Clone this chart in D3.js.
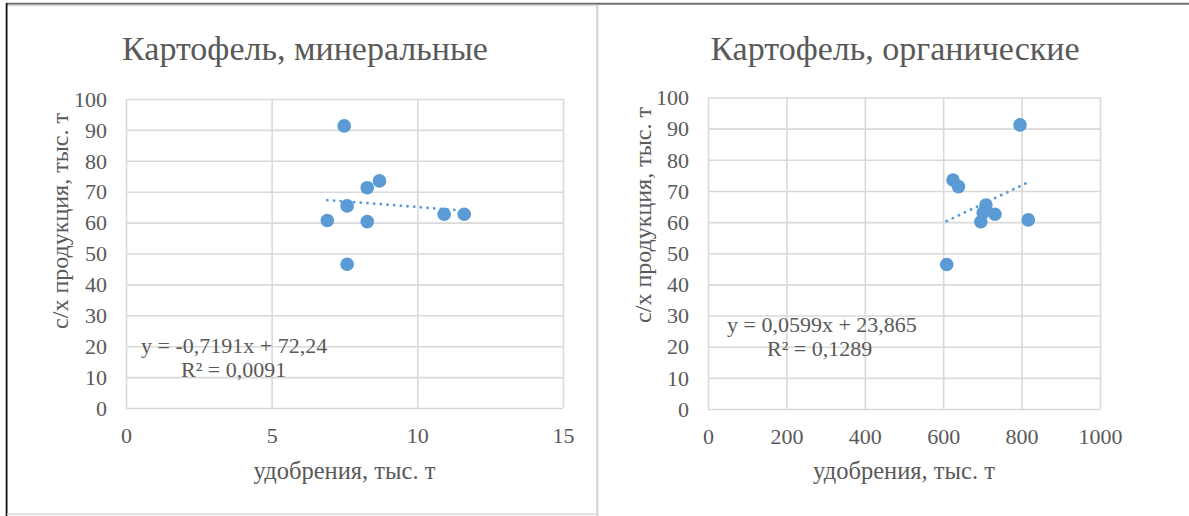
<!DOCTYPE html>
<html><head><meta charset="utf-8">
<script src="https://cdn.jsdelivr.net/npm/d3@7"></script>
<style>
body{margin:0;background:#fff}
svg{display:block}
text{font-family:"Liberation Serif","Times New Roman",serif;fill:#595959}
</style>
</head><body>
<svg id="c" width="1189" height="516"></svg>
<script>
// ---- data ----
const chartTitles = ["Картофель, минеральные", "Картофель, органические"];
const yAxisTitle = "с/х продукция, тыс. т";
const xAxisTitle = "удобрения, тыс. т";
const yTickValues = [0, 10, 20, 30, 40, 50, 60, 70, 80, 90, 100];
const xTicksMineral = [0, 5, 10, 15];
const xTicksOrganic = [0, 200, 400, 600, 800, 1000];
const mineralX = [7.49, 8.70, 8.28, 7.59, 6.91, 8.28, 7.59, 10.92, 11.61];
const mineralY = [91.3, 73.5, 71.3, 65.4, 60.7, 60.3, 46.5, 62.7, 62.7];
const organicX = [796, 625, 639, 709, 702, 732, 696, 817, 609];
const organicY = [91.2, 73.5, 71.4, 65.5, 63.0, 62.5, 60.1, 60.7, 46.4];
const trendMineral = [-0.7191, 72.24];   // slope, intercept
const trendOrganic = [0.0599, 23.865];
const eqMineral = ["y = -0,7191x + 72,24", "R² = 0,0091"];
const eqOrganic = ["y = 0,0599x + 23,865", "R² = 0,1289"];

// ---- layout ----
const svg = d3.select("#c");
svg.append("rect").attr("width",1189).attr("height",516).attr("fill","#fff");

// frame lines
svg.append("line").attr("x1",6).attr("x2",1189).attr("y1",3.8).attr("y2",3.8).attr("stroke","#6f6f6f").attr("stroke-width",2);
svg.append("line").attr("x1",7).attr("x2",597).attr("y1",5.6).attr("y2",5.6).attr("stroke","#dcdcdc").attr("stroke-width",1.5);
svg.append("line").attr("x1",6.6).attr("x2",6.6).attr("y1",3).attr("y2",516).attr("stroke","#111").attr("stroke-width",1.8);
svg.append("line").attr("x1",597.3).attr("x2",597.3).attr("y1",5).attr("y2",516).attr("stroke","#d9d9d9").attr("stroke-width",2.4);
svg.append("line").attr("x1",7).attr("x2",597).attr("y1",514.3).attr("y2",514.3).attr("stroke","#d9d9d9").attr("stroke-width",1.5);

const panels = [
  {title: chartTitles[0], xs: mineralX, ys: mineralY, xTicks: xTicksMineral, xDom:[0,15],
   px:[126,563], py:[408,99], trend: trendMineral, eq: eqMineral,
   titleX: 305, titleY: 60, yTitleX: 68, yTitleY: 221,
   eqPos: [[141,353],[181,377]]},
  {title: chartTitles[1], xs: organicX, ys: organicY, xTicks: xTicksOrganic, xDom:[0,1000],
   px:[708,1100], py:[409,97.5], trend: trendOrganic, eq: eqOrganic,
   titleX: 895, titleY: 60, yTitleX: 651, yTitleY: 215,
   eqPos: [[727,332],[767,356]]}
];

panels.forEach(p => {
  const x = d3.scaleLinear().domain(p.xDom).range(p.px);
  const y = d3.scaleLinear().domain([0,100]).range(p.py);
  const g = svg.append("g");

  // gridlines
  g.append("g").attr("transform",`translate(${p.px[0]},0)`)
    .call(d3.axisLeft(y).tickValues(yTickValues).tickSize(-(p.px[1]-p.px[0])).tickFormat(""))
    .call(a => a.select(".domain").remove())
    .call(a => a.selectAll("line").attr("stroke","#d9d9d9").attr("stroke-width",1.6));
  g.append("g").attr("transform",`translate(0,${p.py[0]})`)
    .call(d3.axisBottom(x).tickValues(p.xTicks).tickSize(-(p.py[0]-p.py[1])).tickFormat(""))
    .call(a => a.select(".domain").remove())
    .call(a => a.selectAll("line").attr("stroke","#d9d9d9").attr("stroke-width",1.6));

  // tick labels
  g.append("g").attr("transform",`translate(${p.px[0]-19},0)`)
    .call(d3.axisLeft(y).tickValues(yTickValues).tickSize(0).tickPadding(0).tickFormat(d3.format("d")))
    .call(a => a.select(".domain").remove())
    .call(a => a.selectAll("text").attr("font-size",22).attr("font-family",'"Liberation Serif",serif').attr("fill","#595959").attr("dy","0.33em"));
  g.append("g").attr("transform",`translate(0,${p.py[0]+35})`)
    .call(d3.axisBottom(x).tickValues(p.xTicks).tickSize(0).tickPadding(0).tickFormat(d3.format("d")))
    .call(a => a.select(".domain").remove())
    .call(a => a.selectAll("text").attr("font-size",22).attr("font-family",'"Liberation Serif",serif').attr("fill","#595959").attr("dy",0));

  // titles
  g.append("text").attr("x",p.titleX).attr("y",p.titleY).attr("text-anchor","middle")
    .attr("font-size",34).text(p.title);
  g.append("text").attr("x",(p.px[0]+p.px[1])/2).attr("y",479).attr("text-anchor","middle")
    .attr("font-size",24.5).text(xAxisTitle);
  g.append("text").attr("transform",`translate(${p.yTitleX},${p.yTitleY}) rotate(-90)`)
    .attr("text-anchor","middle").attr("font-size",24).text(yAxisTitle);

  // trendline
  const [xmin,xmax] = d3.extent(p.xs);
  g.append("line")
    .attr("x1",x(xmin)).attr("y1",y(p.trend[0]*xmin+p.trend[1]))
    .attr("x2",x(xmax)).attr("y2",y(p.trend[0]*xmax+p.trend[1]))
    .attr("stroke","#5b9bd5").attr("stroke-width",2.8)
    .attr("stroke-linecap","round").attr("stroke-dasharray","0.1 6.6");

  // points
  g.selectAll("circle").data(p.xs.map((v,i)=>[v,p.ys[i]])).join("circle")
    .attr("cx",d=>x(d[0])).attr("cy",d=>y(d[1])).attr("r",6.8).attr("fill","#5b9bd5");

  // equation
  p.eq.forEach((t,i)=>{
    g.append("text").attr("x",p.eqPos[i][0]).attr("y",p.eqPos[i][1]).attr("font-size",22).text(t);
  });
});
</script>
</body></html>
